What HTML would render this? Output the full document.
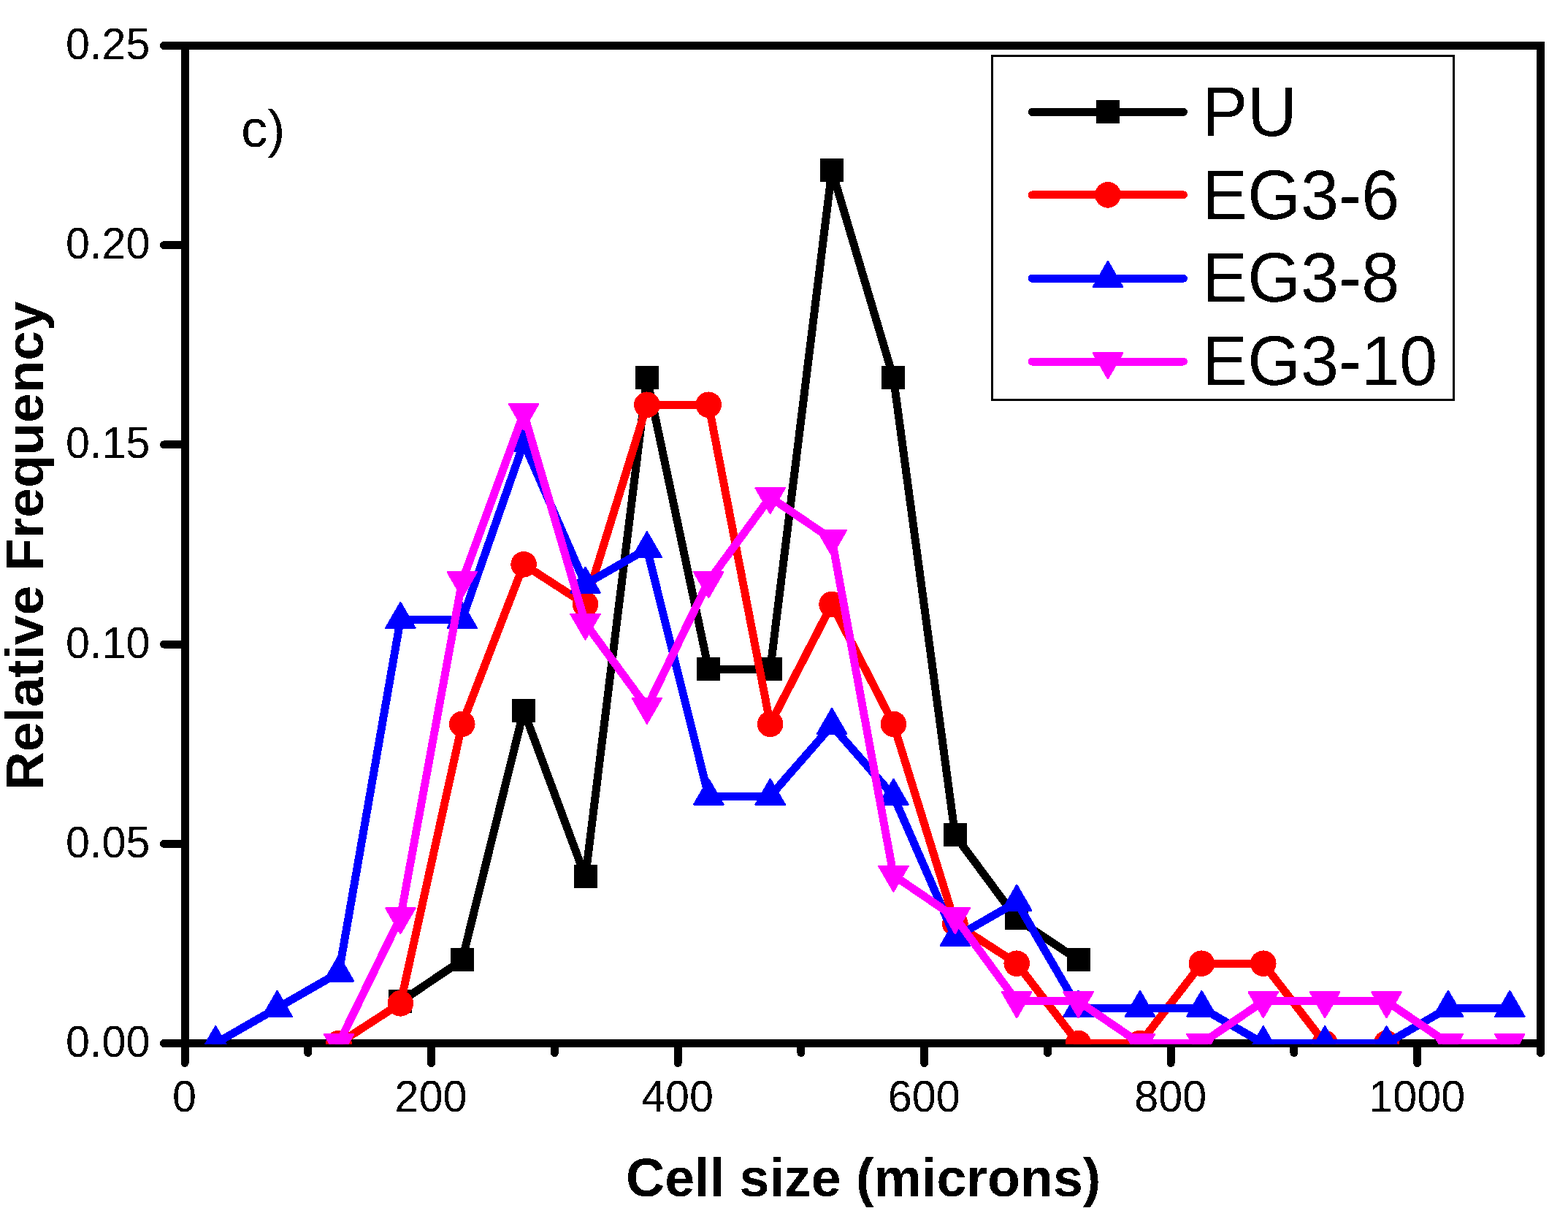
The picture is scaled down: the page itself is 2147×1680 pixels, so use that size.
<!DOCTYPE html>
<html><head><meta charset="utf-8"><title>Cell size distribution</title>
<style>html,body{margin:0;padding:0;background:#fff;}svg{display:block;}text{filter:url(#th);}</style>
</head><body>
<svg width="2147" height="1680" viewBox="0 0 2147 1680" shape-rendering="crispEdges">
<rect width="2147" height="1680" fill="#fff"/>
<defs><filter id="th" x="-5%" y="-5%" width="110%" height="110%"><feComponentTransfer><feFuncA type="discrete" tableValues="0 1"/></feComponentTransfer></filter><clipPath id="pc"><rect x="253.0" y="62.5" width="1856.5" height="1367.2"/></clipPath></defs>
<g stroke="#000" stroke-width="11" fill="none">
<rect x="253.0" y="62.5" width="1856.5" height="1366.0" stroke-linejoin="miter"/>
<path d="M253.00,1428.5 V1455.5 M421.77,1428.5 V1441.5 M590.55,1428.5 V1455.5 M759.32,1428.5 V1441.5 M928.09,1428.5 V1455.5 M1096.86,1428.5 V1441.5 M1265.64,1428.5 V1455.5 M1434.41,1428.5 V1441.5 M1603.18,1428.5 V1455.5 M1771.95,1428.5 V1441.5 M1940.73,1428.5 V1455.5 M2109.50,1428.5 V1441.5 M253.0,1428.50 H224.5 M253.0,1155.30 H224.5 M253.0,882.10 H224.5 M253.0,608.90 H224.5 M253.0,335.70 H224.5 M253.0,62.50 H224.5" stroke-linecap="round"/>
</g>
<text transform="translate(205.5,1446.90) scale(1,1.028)" text-anchor="end" font-family='"Liberation Sans", Arial, sans-serif' font-size="59.3">0.00</text>
<text transform="translate(205.5,1173.70) scale(1,1.028)" text-anchor="end" font-family='"Liberation Sans", Arial, sans-serif' font-size="59.3">0.05</text>
<text transform="translate(205.5,900.50) scale(1,1.028)" text-anchor="end" font-family='"Liberation Sans", Arial, sans-serif' font-size="59.3">0.10</text>
<text transform="translate(205.5,627.30) scale(1,1.028)" text-anchor="end" font-family='"Liberation Sans", Arial, sans-serif' font-size="59.3">0.15</text>
<text transform="translate(205.5,354.10) scale(1,1.028)" text-anchor="end" font-family='"Liberation Sans", Arial, sans-serif' font-size="59.3">0.20</text>
<text transform="translate(205.5,80.90) scale(1,1.028)" text-anchor="end" font-family='"Liberation Sans", Arial, sans-serif' font-size="59.3">0.25</text>
<text transform="translate(252.50,1521.7) scale(1,1.028)" text-anchor="middle" font-family='"Liberation Sans", Arial, sans-serif' font-size="59.3">0</text>
<text transform="translate(590.05,1521.7) scale(1,1.028)" text-anchor="middle" font-family='"Liberation Sans", Arial, sans-serif' font-size="59.3">200</text>
<text transform="translate(927.59,1521.7) scale(1,1.028)" text-anchor="middle" font-family='"Liberation Sans", Arial, sans-serif' font-size="59.3">400</text>
<text transform="translate(1265.14,1521.7) scale(1,1.028)" text-anchor="middle" font-family='"Liberation Sans", Arial, sans-serif' font-size="59.3">600</text>
<text transform="translate(1602.68,1521.7) scale(1,1.028)" text-anchor="middle" font-family='"Liberation Sans", Arial, sans-serif' font-size="59.3">800</text>
<text transform="translate(1940.23,1521.7) scale(1,1.028)" text-anchor="middle" font-family='"Liberation Sans", Arial, sans-serif' font-size="59.3">1000</text>
<text x="1182.2" y="1638" text-anchor="middle" font-family='"Liberation Sans", Arial, sans-serif' font-weight="bold" font-size="73.6">Cell size (microns)</text>
<text transform="translate(59,747.2) rotate(-90)" x="0" y="0" text-anchor="middle" font-family='"Liberation Sans", Arial, sans-serif' font-weight="bold" font-size="73.0">Relative Frequency</text>
<text x="330" y="201" font-family='"Liberation Sans", Arial, sans-serif' font-size="72.6">c)</text>
<g clip-path="url(#pc)">
<path d="M548.35,1371.58 L632.74,1314.67 L717.12,973.17 L801.51,1200.83 L885.90,517.83 L970.28,916.25 L1054.67,916.25 L1139.06,233.25 L1223.44,517.83 L1307.83,1143.92 L1392.22,1257.75 L1476.60,1314.67" fill="none" stroke="#000000" stroke-width="11" stroke-linejoin="round" stroke-linecap="round"/>
<rect x="532.35" y="1354.98" width="32" height="32" fill="#000000"/><rect x="616.74" y="1298.07" width="32" height="32" fill="#000000"/><rect x="701.12" y="956.57" width="32" height="32" fill="#000000"/><rect x="785.51" y="1184.23" width="32" height="32" fill="#000000"/><rect x="869.90" y="501.23" width="32" height="32" fill="#000000"/><rect x="954.28" y="899.65" width="32" height="32" fill="#000000"/><rect x="1038.67" y="899.65" width="32" height="32" fill="#000000"/><rect x="1123.06" y="216.65" width="32" height="32" fill="#000000"/><rect x="1207.44" y="501.23" width="32" height="32" fill="#000000"/><rect x="1291.83" y="1127.32" width="32" height="32" fill="#000000"/><rect x="1376.22" y="1241.15" width="32" height="32" fill="#000000"/><rect x="1460.60" y="1298.07" width="32" height="32" fill="#000000"/>

<path d="M463.97,1428.50 L548.35,1373.86 L632.74,991.38 L717.12,772.82 L801.51,827.46 L885.90,554.26 L970.28,554.26 L1054.67,991.38 L1139.06,827.46 L1223.44,991.38 L1307.83,1264.58 L1392.22,1319.22 L1476.60,1428.50 L1560.99,1428.50 L1645.38,1319.22 L1729.76,1319.22 L1814.15,1428.50 L1898.53,1428.50" fill="none" stroke="#ff0000" stroke-width="11" stroke-linejoin="round" stroke-linecap="round"/>
<circle cx="463.97" cy="1428.50" r="17.8" fill="#ff0000"/><circle cx="548.35" cy="1373.86" r="17.8" fill="#ff0000"/><circle cx="632.74" cy="991.38" r="17.8" fill="#ff0000"/><circle cx="717.12" cy="772.82" r="17.8" fill="#ff0000"/><circle cx="801.51" cy="827.46" r="17.8" fill="#ff0000"/><circle cx="885.90" cy="554.26" r="17.8" fill="#ff0000"/><circle cx="970.28" cy="554.26" r="17.8" fill="#ff0000"/><circle cx="1054.67" cy="991.38" r="17.8" fill="#ff0000"/><circle cx="1139.06" cy="827.46" r="17.8" fill="#ff0000"/><circle cx="1223.44" cy="991.38" r="17.8" fill="#ff0000"/><circle cx="1307.83" cy="1264.58" r="17.8" fill="#ff0000"/><circle cx="1392.22" cy="1319.22" r="17.8" fill="#ff0000"/><circle cx="1476.60" cy="1428.50" r="17.8" fill="#ff0000"/><circle cx="1560.99" cy="1428.50" r="17.8" fill="#ff0000"/><circle cx="1645.38" cy="1319.22" r="17.8" fill="#ff0000"/><circle cx="1729.76" cy="1319.22" r="17.8" fill="#ff0000"/><circle cx="1814.15" cy="1428.50" r="17.8" fill="#ff0000"/><circle cx="1898.53" cy="1428.50" r="17.8" fill="#ff0000"/>

<path d="M295.19,1428.50 L379.58,1380.15 L463.97,1331.79 L548.35,848.25 L632.74,848.25 L717.12,606.48 L801.51,799.90 L885.90,751.54 L970.28,1090.02 L1054.67,1090.02 L1139.06,993.31 L1223.44,1090.02 L1307.83,1283.44 L1392.22,1235.08 L1476.60,1380.15 L1560.99,1380.15 L1645.38,1380.15 L1729.76,1428.50 L1814.15,1428.50 L1898.53,1428.50 L1982.92,1380.15 L2067.31,1380.15" fill="none" stroke="#0000ff" stroke-width="11" stroke-linejoin="round" stroke-linecap="round"/>
<polygon points="295.19,1405.43 275.19,1440.03 315.19,1440.03" fill="#0000ff" stroke="#0000ff" stroke-width="2.5" stroke-linejoin="round"/><polygon points="379.58,1357.08 359.58,1391.68 399.58,1391.68" fill="#0000ff" stroke="#0000ff" stroke-width="2.5" stroke-linejoin="round"/><polygon points="463.97,1308.73 443.97,1343.33 483.97,1343.33" fill="#0000ff" stroke="#0000ff" stroke-width="2.5" stroke-linejoin="round"/><polygon points="548.35,825.19 528.35,859.79 568.35,859.79" fill="#0000ff" stroke="#0000ff" stroke-width="2.5" stroke-linejoin="round"/><polygon points="632.74,825.19 612.74,859.79 652.74,859.79" fill="#0000ff" stroke="#0000ff" stroke-width="2.5" stroke-linejoin="round"/><polygon points="717.12,583.42 697.12,618.02 737.12,618.02" fill="#0000ff" stroke="#0000ff" stroke-width="2.5" stroke-linejoin="round"/><polygon points="801.51,776.83 781.51,811.43 821.51,811.43" fill="#0000ff" stroke="#0000ff" stroke-width="2.5" stroke-linejoin="round"/><polygon points="885.90,728.48 865.90,763.08 905.90,763.08" fill="#0000ff" stroke="#0000ff" stroke-width="2.5" stroke-linejoin="round"/><polygon points="970.28,1066.96 950.28,1101.56 990.28,1101.56" fill="#0000ff" stroke="#0000ff" stroke-width="2.5" stroke-linejoin="round"/><polygon points="1054.67,1066.96 1034.67,1101.56 1074.67,1101.56" fill="#0000ff" stroke="#0000ff" stroke-width="2.5" stroke-linejoin="round"/><polygon points="1139.06,970.25 1119.06,1004.85 1159.06,1004.85" fill="#0000ff" stroke="#0000ff" stroke-width="2.5" stroke-linejoin="round"/><polygon points="1223.44,1066.96 1203.44,1101.56 1243.44,1101.56" fill="#0000ff" stroke="#0000ff" stroke-width="2.5" stroke-linejoin="round"/><polygon points="1307.83,1260.37 1287.83,1294.97 1327.83,1294.97" fill="#0000ff" stroke="#0000ff" stroke-width="2.5" stroke-linejoin="round"/><polygon points="1392.22,1212.02 1372.22,1246.62 1412.22,1246.62" fill="#0000ff" stroke="#0000ff" stroke-width="2.5" stroke-linejoin="round"/><polygon points="1476.60,1357.08 1456.60,1391.68 1496.60,1391.68" fill="#0000ff" stroke="#0000ff" stroke-width="2.5" stroke-linejoin="round"/><polygon points="1560.99,1357.08 1540.99,1391.68 1580.99,1391.68" fill="#0000ff" stroke="#0000ff" stroke-width="2.5" stroke-linejoin="round"/><polygon points="1645.38,1357.08 1625.38,1391.68 1665.38,1391.68" fill="#0000ff" stroke="#0000ff" stroke-width="2.5" stroke-linejoin="round"/><polygon points="1729.76,1405.43 1709.76,1440.03 1749.76,1440.03" fill="#0000ff" stroke="#0000ff" stroke-width="2.5" stroke-linejoin="round"/><polygon points="1814.15,1405.43 1794.15,1440.03 1834.15,1440.03" fill="#0000ff" stroke="#0000ff" stroke-width="2.5" stroke-linejoin="round"/><polygon points="1898.53,1405.43 1878.53,1440.03 1918.53,1440.03" fill="#0000ff" stroke="#0000ff" stroke-width="2.5" stroke-linejoin="round"/><polygon points="1982.92,1357.08 1962.92,1391.68 2002.92,1391.68" fill="#0000ff" stroke="#0000ff" stroke-width="2.5" stroke-linejoin="round"/><polygon points="2067.31,1357.08 2047.31,1391.68 2087.31,1391.68" fill="#0000ff" stroke="#0000ff" stroke-width="2.5" stroke-linejoin="round"/>

<path d="M463.97,1428.50 L548.35,1255.95 L632.74,795.83 L717.12,565.76 L801.51,853.34 L885.90,968.37 L970.28,795.83 L1054.67,680.79 L1139.06,738.31 L1223.44,1198.44 L1307.83,1255.95 L1392.22,1370.98 L1476.60,1370.98 L1560.99,1428.50 L1645.38,1428.50 L1729.76,1370.98 L1814.15,1370.98 L1898.53,1370.98 L1982.92,1428.50 L2067.31,1428.50" fill="none" stroke="#ff00ff" stroke-width="11" stroke-linejoin="round" stroke-linecap="round"/>
<polygon points="463.97,1450.57 443.97,1415.97 483.97,1415.97" fill="#ff00ff" stroke="#ff00ff" stroke-width="2.5" stroke-linejoin="round"/><polygon points="548.35,1278.02 528.35,1243.42 568.35,1243.42" fill="#ff00ff" stroke="#ff00ff" stroke-width="2.5" stroke-linejoin="round"/><polygon points="632.74,817.89 612.74,783.29 652.74,783.29" fill="#ff00ff" stroke="#ff00ff" stroke-width="2.5" stroke-linejoin="round"/><polygon points="717.12,587.83 697.12,553.23 737.12,553.23" fill="#ff00ff" stroke="#ff00ff" stroke-width="2.5" stroke-linejoin="round"/><polygon points="801.51,875.41 781.51,840.81 821.51,840.81" fill="#ff00ff" stroke="#ff00ff" stroke-width="2.5" stroke-linejoin="round"/><polygon points="885.90,990.44 865.90,955.84 905.90,955.84" fill="#ff00ff" stroke="#ff00ff" stroke-width="2.5" stroke-linejoin="round"/><polygon points="970.28,817.89 950.28,783.29 990.28,783.29" fill="#ff00ff" stroke="#ff00ff" stroke-width="2.5" stroke-linejoin="round"/><polygon points="1054.67,702.86 1034.67,668.26 1074.67,668.26" fill="#ff00ff" stroke="#ff00ff" stroke-width="2.5" stroke-linejoin="round"/><polygon points="1139.06,760.38 1119.06,725.78 1159.06,725.78" fill="#ff00ff" stroke="#ff00ff" stroke-width="2.5" stroke-linejoin="round"/><polygon points="1223.44,1220.50 1203.44,1185.90 1243.44,1185.90" fill="#ff00ff" stroke="#ff00ff" stroke-width="2.5" stroke-linejoin="round"/><polygon points="1307.83,1278.02 1287.83,1243.42 1327.83,1243.42" fill="#ff00ff" stroke="#ff00ff" stroke-width="2.5" stroke-linejoin="round"/><polygon points="1392.22,1393.05 1372.22,1358.45 1412.22,1358.45" fill="#ff00ff" stroke="#ff00ff" stroke-width="2.5" stroke-linejoin="round"/><polygon points="1476.60,1393.05 1456.60,1358.45 1496.60,1358.45" fill="#ff00ff" stroke="#ff00ff" stroke-width="2.5" stroke-linejoin="round"/><polygon points="1560.99,1450.57 1540.99,1415.97 1580.99,1415.97" fill="#ff00ff" stroke="#ff00ff" stroke-width="2.5" stroke-linejoin="round"/><polygon points="1645.38,1450.57 1625.38,1415.97 1665.38,1415.97" fill="#ff00ff" stroke="#ff00ff" stroke-width="2.5" stroke-linejoin="round"/><polygon points="1729.76,1393.05 1709.76,1358.45 1749.76,1358.45" fill="#ff00ff" stroke="#ff00ff" stroke-width="2.5" stroke-linejoin="round"/><polygon points="1814.15,1393.05 1794.15,1358.45 1834.15,1358.45" fill="#ff00ff" stroke="#ff00ff" stroke-width="2.5" stroke-linejoin="round"/><polygon points="1898.53,1393.05 1878.53,1358.45 1918.53,1358.45" fill="#ff00ff" stroke="#ff00ff" stroke-width="2.5" stroke-linejoin="round"/><polygon points="1982.92,1450.57 1962.92,1415.97 2002.92,1415.97" fill="#ff00ff" stroke="#ff00ff" stroke-width="2.5" stroke-linejoin="round"/><polygon points="2067.31,1450.57 2047.31,1415.97 2087.31,1415.97" fill="#ff00ff" stroke="#ff00ff" stroke-width="2.5" stroke-linejoin="round"/>

</g>
<rect x="1358.5" y="76.5" width="632" height="471" fill="none" stroke="#000" stroke-width="3"/>
<path d="M1413.2,153.4 H1620.4" stroke="#000000" stroke-width="11" stroke-linecap="round"/>
<rect x="1501.00" y="136.80" width="32" height="32" fill="#000000"/>
<text transform="translate(1646,185.8) scale(1,1.04)" font-family='"Liberation Sans", Arial, sans-serif' font-size="93.5">PU</text>
<path d="M1413.2,266.9 H1620.4" stroke="#ff0000" stroke-width="11" stroke-linecap="round"/>
<circle cx="1517.00" cy="266.90" r="17.8" fill="#ff0000"/>
<text transform="translate(1646,299.8) scale(1,1.04)" font-family='"Liberation Sans", Arial, sans-serif' font-size="93.5">EG3-6</text>
<path d="M1413.2,381.2 H1620.4" stroke="#0000ff" stroke-width="11" stroke-linecap="round"/>
<polygon points="1517.00,358.13 1497.00,392.73 1537.00,392.73" fill="#0000ff" stroke="#0000ff" stroke-width="2.5" stroke-linejoin="round"/>
<text transform="translate(1646,412.9) scale(1,1.04)" font-family='"Liberation Sans", Arial, sans-serif' font-size="93.5">EG3-8</text>
<path d="M1413.2,495.0 H1620.4" stroke="#ff00ff" stroke-width="11" stroke-linecap="round"/>
<polygon points="1517.00,518.07 1497.00,483.47 1537.00,483.47" fill="#ff00ff" stroke="#ff00ff" stroke-width="2.5" stroke-linejoin="round"/>
<text transform="translate(1646,526.8) scale(1,1.04)" font-family='"Liberation Sans", Arial, sans-serif' font-size="93.5">EG3-10</text>
</svg>
</body></html>
